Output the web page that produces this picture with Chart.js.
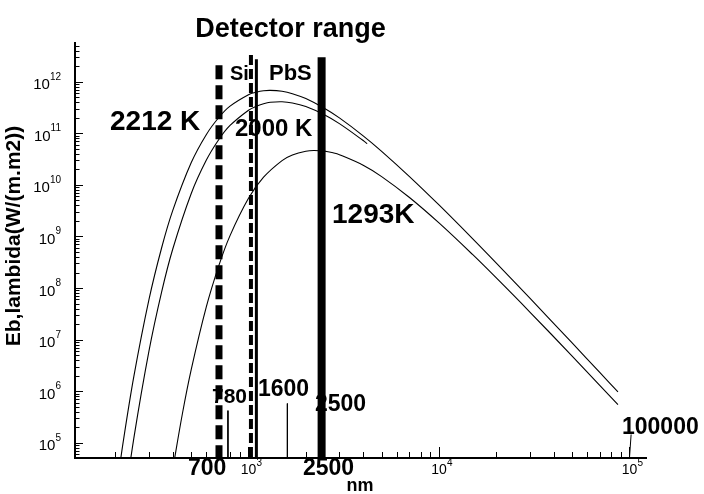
<!DOCTYPE html>
<html><head><meta charset="utf-8">
<script src="https://cdn.jsdelivr.net/npm/chart.js@4.4.0/dist/chart.umd.min.js"></script>
<style>html,body{margin:0;padding:0;background:#fff;}canvas{display:block;}</style>
</head><body>
<canvas id="c" width="704" height="494"></canvas>
<script>
// ---- data (wavelength in nm, Eb,lambda in W/(m.m2)) ----
const wl2212 = [200,220,250,300,350,400,500,600,700,800,1000,1100,1200,1300,1500,1700,2000,2500,3000,4000,5000,7000,10000,15000,20000,30000,50000,70000,87000];
const eb2212 = [8.79e3,1.05e5,1.92e6,5.90e7,6.05e8,3.17e9,2.68e10,9.42e10,2.05e11,3.37e11,5.61e11,6.28e11,6.68e11,6.81e11,6.53e11,5.87e11,4.71e11,3.06e11,1.99e11,8.95e10,4.48e10,1.45e10,4.08e9,9.08e8,3.04e8,6.35e7,8.61e6,2.29e6,9.66e5];
const wl2000 = [220,250,300,350,400,500,600,700,800,1000,1100,1200,1300,1500,1700,2000,2500,3000,4000,4200];
const eb2000 = [4.56e3,1.22e5,5.93e6,8.43e7,5.65e8,6.75e9,2.99e10,7.66e10,1.42e11,2.81e11,3.36e11,3.75e11,4.00e11,4.10e11,3.88e11,3.30e11,2.29e11,1.54e11,7.26e10,6.30e10];
const wl1293 = [400,450,500,600,700,800,1000,1200,1500,1700,2000,2200,2500,2800,3000,4000,5000,7000,10000,15000,20000,30000,50000,70000,87000];
const eb1293 = [3.03e4,3.70e5,2.59e6,4.25e7,2.78e8,1.04e9,5.50e9,1.41e10,2.96e10,3.79e10,4.50e10,4.65e10,4.52e10,4.16e10,3.86e10,2.41e10,1.45e10,5.70e9,1.83e9,4.48e8,1.57e8,3.43e7,4.80e6,1.29e6,5.50e5];
// detector range boundaries: Si 700 (dashed), 1030 (dashed); PbS 1100 (solid), 2420 (solid)
const detectorWl = [700, 1030, 1100, 2420];
const detectorTop = [2.1e12, 3.3e12, 2.72e12, 2.98e12];
// small marker lines
const markerWl = [780, 1600];
const markerTop = [4.2e5, 5.77e5];
const endMarkerWl = [1.0e5, 1.02e5];
const endMarkerTop = 1.45e5;
// axes
const xMin = 122.8, xMax = 1.221e5, yMin = 5.07e4, yMax = 5.64e12;
const xTickExps = [3, 4, 5];
const yTickExps = [5, 6, 7, 8, 9, 10, 11, 12];
const curveLabels = ['2212 K', '2000 K', '1293K'];

const FONT = "'Liberation Sans', Arial, Helvetica, sans-serif";
const pts = (xs, ys) => xs.map((x, i) => ({x: x, y: ys[i]}));
const curve = (xs, ys) => ({data: pts(xs, ys), borderColor: '#000', borderWidth: 1.1, pointRadius: 0, fill: false, tension: 0.35});
const vline = (x, top, w, dash) => ({data: [{x: x, y: top}, {x: x, y: yMin}], borderColor: '#000', borderWidth: w, borderDash: dash || [], borderCapStyle: 'butt', pointRadius: 0, fill: false, tension: 0});

const datasets = [
  curve(wl2212, eb2212),
  curve(wl2000, eb2000),
  curve(wl1293, eb1293),
  vline(detectorWl[0], detectorTop[0], 7, [14, 6]),
  vline(detectorWl[1], detectorTop[1], 4, [10, 4]),
  vline(detectorWl[2], detectorTop[2], 3),
  vline(detectorWl[3], detectorTop[3], 8),
  vline(markerWl[0], markerTop[0], 1),
  vline(markerWl[1], markerTop[1], 1),
  {data: [{x: endMarkerWl[0], y: yMin}, {x: endMarkerWl[1], y: endMarkerTop}], borderColor: '#000', borderWidth: 1, pointRadius: 0, fill: false, tension: 0}
];

function txt(ctx, s, x, y, size, bold, align) {
  ctx.font = (bold ? 'bold ' : '') + size + 'px ' + FONT;
  ctx.textAlign = align || 'left';
  ctx.textBaseline = 'alphabetic';
  ctx.fillStyle = '#000';
  ctx.fillText(s, x, y);
}

const annot = {
  id: 'annot',
  beforeDatasetsDraw(chart) {
    const ctx = chart.ctx;
    ctx.save();
    txt(ctx, curveLabels[0], 110, 130, 28, true);
    txt(ctx, curveLabels[1], 235, 136, 24, true);
    txt(ctx, curveLabels[2], 332, 223, 28, true);
    txt(ctx, 'Si', 230, 80, 20, true);
    txt(ctx, 'PbS', 269, 80, 22, true);
    txt(ctx, String(markerWl[0]), 212, 403, 21, true);
    txt(ctx, String(markerWl[1]), 258, 396, 23, true);
    txt(ctx, '2500', 315, 411, 23, true);
    txt(ctx, '100000', 622, 434, 23, true);
    ctx.restore();
  },
  afterDraw(chart) {
    const ctx = chart.ctx;
    const xs = chart.scales.x, ys = chart.scales.y;
    const a = chart.chartArea;
    ctx.save();
    ctx.strokeStyle = '#000';
    ctx.lineWidth = 1;
    // x ticks (inside)
    for (let e = 2; e <= 5; e++) {
      for (let m = 1; m <= 9; m++) {
        const v = m * Math.pow(10, e);
        if (v < xMin || v > xMax) continue;
        const px = Math.round(xs.getPixelForValue(v)) + 0.5;
        const len = m === 1 ? 11 : 6;
        ctx.beginPath(); ctx.moveTo(px, a.bottom); ctx.lineTo(px, a.bottom - len); ctx.stroke();
      }
    }
    // y ticks (inside)
    for (let e = 4; e <= 12; e++) {
      for (let m = 1; m <= 9; m++) {
        const v = m * Math.pow(10, e);
        if (v < yMin || v > yMax) continue;
        const py = Math.round(ys.getPixelForValue(v)) + 0.5;
        const len = m === 1 ? 8 : 4.5;
        ctx.beginPath(); ctx.moveTo(a.left, py); ctx.lineTo(a.left + len, py); ctx.stroke();
      }
    }
    // y tick labels
    yTickExps.forEach(e => {
      const py = ys.getPixelForValue(Math.pow(10, e));
      ctx.font = '10px ' + FONT;
      const we = ctx.measureText(String(e)).width;
      txt(ctx, String(e), 61, py - 2, 10, false, 'right');
      txt(ctx, '10', 61 - we, py + 7.5, 15, false, 'right');
    });
    // x tick labels
    xTickExps.forEach(e => {
      const px = xs.getPixelForValue(Math.pow(10, e));
      txt(ctx, '10', px, a.bottom + 16, 14, false, 'center');
      txt(ctx, String(e), px + 8, a.bottom + 8, 10, false, 'left');
    });
    // bottom bold labels
    txt(ctx, '700', 188, 475, 23, true);
    txt(ctx, '2500', 303, 475, 23, true);
    // axis titles
    txt(ctx, 'nm', 360, 491, 18, true, 'center');
    ctx.save();
    ctx.translate(20, 236);
    ctx.rotate(-Math.PI / 2);
    txt(ctx, 'Eb,lambida(W/(m.m2))', 0, 0, 21, true, 'center');
    ctx.restore();
    // title
    txt(ctx, 'Detector range', 290.5, 37, 27, true, 'center');
    ctx.restore();
  }
};

new Chart(document.getElementById('c'), {
  type: 'line',
  data: {datasets: datasets},
  options: {
    responsive: false,
    animation: false,
    devicePixelRatio: 1,
    events: [],
    layout: {padding: {top: 43, right: 58, left: 0, bottom: 0}},
    plugins: {legend: {display: false}, tooltip: {enabled: false}, title: {display: false}},
    scales: {
      x: {
        type: 'logarithmic', position: 'bottom', min: xMin, max: xMax,
        grid: {display: true, drawOnChartArea: false, drawTicks: false},
        border: {display: true, color: '#000', width: 2},
        ticks: {display: false},
        afterFit(s) { s.height = 36; }
      },
      y: {
        type: 'logarithmic', position: 'left', min: yMin, max: yMax,
        grid: {display: true, drawOnChartArea: false, drawTicks: false},
        border: {display: true, color: '#000', width: 2},
        ticks: {display: false},
        afterFit(s) { s.width = 75; }
      }
    }
  },
  plugins: [annot]
});
</script>
</body></html>
